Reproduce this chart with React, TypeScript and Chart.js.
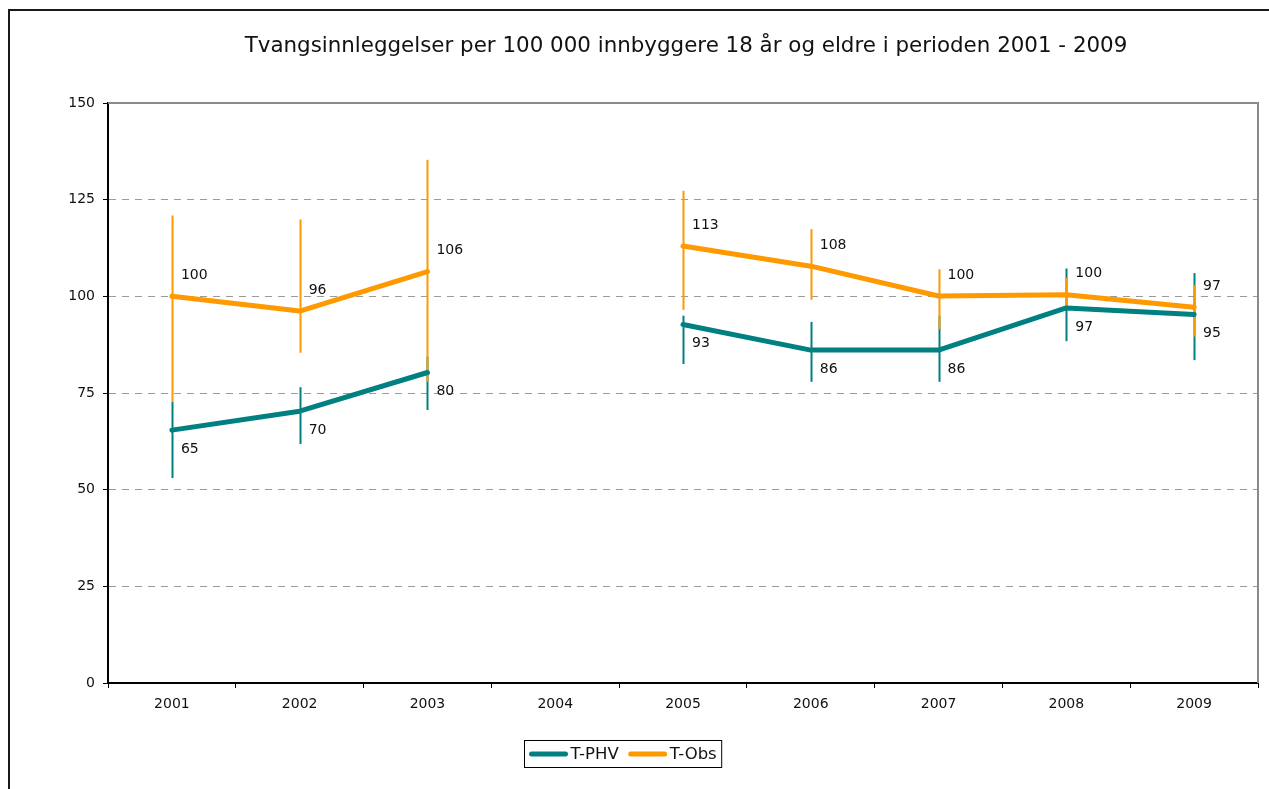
import React, { useEffect, useRef } from "react";
import { Chart, registerables } from "chart.js";

Chart.register(...registerables);

const TITLE = "Tvangsinnleggelser per 100 000 innbyggere 18 år og eldre i perioden 2001 - 2009";
const YEARS = ["2001", "2002", "2003", "2004", "2005", "2006", "2007", "2008", "2009"];
const SERIES_NAMES = ["T-PHV", "T-Obs"];

const PHV = [65.4, 70.3, 80.3, null, 92.7, 86.1, 86.1, 97.0, 95.3];
const PHV_LOW = [53.0, 61.8, 70.6, null, 82.5, 77.9, 77.9, 88.4, 83.5];
const PHV_HIGH = [72.7, 76.5, 84.4, null, 95.0, 93.4, 95.0, 107.2, 106.0];

const OBS = [100.0, 96.2, 106.4, null, 113.0, 107.8, 100.1, 100.4, 97.2];
const OBS_LOW = [72.7, 85.4, 77.9, null, 96.5, 99.1, 91.5, 97.3, 89.6];
const OBS_HIGH = [120.9, 119.9, 135.3, null, 127.3, 117.4, 107.0, 104.8, 102.9];

const Y_TICKS = [0, 25, 50, 75, 100, 125, 150];

const TEAL = "#008080";
const ORANGE = "#FF9900";
const FONT = "'DejaVu Sans', Verdana, sans-serif";

const customPlugin = {
  id: "customDecor",
  beforeDraw(chart: any) {
    const ctx = chart.ctx;
    ctx.save();
    ctx.fillStyle = "#ffffff";
    ctx.fillRect(0, 0, chart.width, chart.height);
    ctx.fillStyle = "#1a1a1a";
    ctx.fillRect(8, 9, chart.width - 8, 2);
    ctx.fillRect(8, 9, 2, chart.height - 9);
    ctx.restore();
  },
  beforeDatasetsDraw(chart: any) {
    const ctx = chart.ctx;
    const area = chart.chartArea;
    const xs = chart.scales.x;
    const ys = chart.scales.y;
    ctx.save();
    ctx.strokeStyle = "#8a8a8a";
    ctx.lineWidth = 2;
    ctx.beginPath();
    ctx.moveTo(area.left, area.top);
    ctx.lineTo(area.right, area.top);
    ctx.lineTo(area.right, area.bottom);
    ctx.stroke();

    const bars = [
      { low: PHV_LOW, high: PHV_HIGH, color: TEAL },
      { low: OBS_LOW, high: OBS_HIGH, color: ORANGE },
    ];
    ctx.lineWidth = 2;
    for (const b of bars) {
      ctx.strokeStyle = b.color;
      for (let i = 0; i < YEARS.length; i++) {
        const lo = b.low[i];
        const hi = b.high[i];
        if (lo == null || hi == null) continue;
        const x = Math.round(xs.getPixelForValue(i)) + 0.5;
        ctx.beginPath();
        ctx.moveTo(x, ys.getPixelForValue(lo));
        ctx.lineTo(x, ys.getPixelForValue(hi));
        ctx.stroke();
      }
    }
    ctx.restore();
  },
  afterDatasetsDraw(chart: any) {
    const ctx = chart.ctx;
    ctx.save();
    ctx.font = `14px ${FONT}`;
    ctx.fillStyle = "#111111";
    ctx.textAlign = "left";
    ctx.textBaseline = "middle";
    const offsets = [19, -21];
    chart.data.datasets.forEach((ds: any, di: number) => {
      const meta = chart.getDatasetMeta(di);
      meta.data.forEach((pt: any, i: number) => {
        const v = ds.data[i];
        if (v == null) return;
        ctx.fillText(String(Math.round(v)), pt.x + 9, pt.y + offsets[di]);
      });
    });
    ctx.restore();
  },
  afterDraw(chart: any) {
    const ctx = chart.ctx;
    ctx.save();
    ctx.font = `21.4px ${FONT}`;
    ctx.fillStyle = "#111111";
    ctx.textAlign = "center";
    ctx.textBaseline = "alphabetic";
    ctx.fillText(TITLE, 686, 52);

    ctx.font = `16.5px ${FONT}`;
    const colors = [TEAL, ORANGE];
    const lineLen = 38;
    const pad = 5;
    const gapLT = 3;
    const gapItems = 10;
    const widths = SERIES_NAMES.map((n) => ctx.measureText(n).width);
    let total = pad * 2;
    widths.forEach((w, i) => {
      total += lineLen + gapLT + w + (i < widths.length - 1 ? gapItems : 0);
    });
    const cx = 623;
    const boxL = Math.round(cx - total / 2) + 0.5;
    const boxT = 740.5;
    const boxH = 27;
    ctx.strokeStyle = "#000000";
    ctx.lineWidth = 1;
    ctx.strokeRect(boxL, boxT, total, boxH);
    let x = boxL + pad;
    const cy = boxT + boxH / 2;
    ctx.textAlign = "left";
    ctx.textBaseline = "middle";
    SERIES_NAMES.forEach((n, i) => {
      ctx.strokeStyle = colors[i];
      ctx.lineWidth = 5;
      ctx.lineCap = "round";
      ctx.beginPath();
      ctx.moveTo(x + 2, cy);
      ctx.lineTo(x + lineLen - 2, cy);
      ctx.stroke();
      x += lineLen + gapLT;
      ctx.fillStyle = "#111111";
      ctx.fillText(n, x, cy + 1);
      x += widths[i] + gapItems;
    });
    ctx.restore();
  },
};

export default function App() {
  const canvasRef = useRef<HTMLCanvasElement | null>(null);

  useEffect(() => {
    const canvas = canvasRef.current;
    if (!canvas) return;
    const chart = new Chart(canvas, {
      type: "line",
      data: {
        labels: YEARS,
        datasets: [
          {
            label: SERIES_NAMES[0],
            data: PHV,
            borderColor: TEAL,
            backgroundColor: TEAL,
            borderWidth: 5,
            pointRadius: 0,
            spanGaps: false,
            tension: 0,
            borderCapStyle: "round",
            borderJoinStyle: "round",
          },
          {
            label: SERIES_NAMES[1],
            data: OBS,
            borderColor: ORANGE,
            backgroundColor: ORANGE,
            borderWidth: 5,
            pointRadius: 0,
            spanGaps: false,
            tension: 0,
            borderCapStyle: "round",
            borderJoinStyle: "round",
          },
        ],
      },
      options: {
        responsive: false,
        animation: false,
        devicePixelRatio: 1,
        layout: { padding: { top: 103, right: 11, bottom: 0, left: 0 } },
        plugins: {
          legend: { display: false },
          title: { display: false },
          tooltip: { enabled: false },
        },
        scales: {
          x: {
            type: "category",
            offset: true,
            afterFit: (s: any) => {
              s.height = 106;
            },
            grid: {
              offset: true,
              drawOnChartArea: false,
              drawTicks: true,
              tickLength: 5,
              tickColor: "#000000",
              tickWidth: 1,
            },
            border: { color: "#000000", width: 2 },
            ticks: {
              font: { family: FONT, size: 14 },
              color: "#111111",
              padding: 8,
              maxRotation: 0,
              autoSkip: false,
            },
          },
          y: {
            min: 0,
            max: 150,
            afterFit: (s: any) => {
              s.width = 108;
            },
            afterBuildTicks: (s: any) => {
              s.ticks = Y_TICKS.map((v) => ({ value: v }));
            },
            grid: {
              color: (c: any) =>
                c.tick && (c.tick.value === 0 || c.tick.value === 150) ? "rgba(0,0,0,0)" : "#9a9a9a",
              lineWidth: 1,
              tickLength: 5,
              tickColor: "#000000",
              tickWidth: 1,
            },
            border: { color: "#000000", width: 2, dash: [7, 6] },
            ticks: {
              font: { family: FONT, size: 14 },
              color: "#111111",
              padding: 8,
            },
          },
        },
      },
      plugins: [customPlugin],
    } as any);
    return () => chart.destroy();
  }, []);

  return (
    <div style={{ position: "absolute", left: 0, top: 0, width: 1269, height: 789 }}>
      <canvas ref={canvasRef} width={1269} height={789} />
    </div>
  );
}
